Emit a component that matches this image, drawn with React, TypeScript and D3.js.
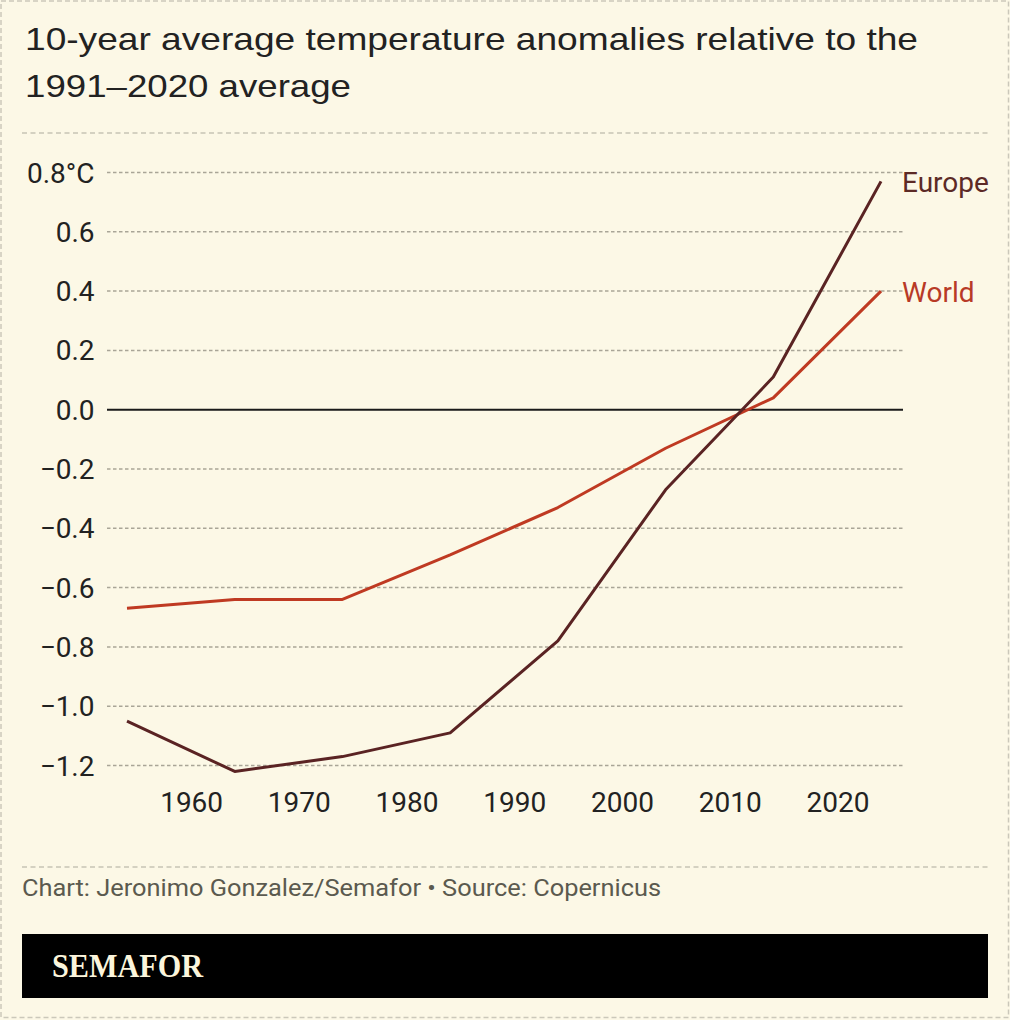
import React, { useEffect, useRef } from "react";
import * as d3 from "d3";

// 10-year averages, ending years
const years = [1954, 1964, 1974, 1984, 1994, 2004, 2014, 2024];
const europe = [-1.05, -1.22, -1.17, -1.09, -0.78, -0.27, 0.11, 0.77];
const world = [-0.67, -0.64, -0.64, -0.49, -0.33, -0.13, 0.04, 0.4];
const yTicks = [0.8, 0.6, 0.4, 0.2, 0, -0.2, -0.4, -0.6, -0.8, -1.0, -1.2];
const xTicks = [1960, 1970, 1980, 1990, 2000, 2010, 2020];
const seriesNames = ["Europe", "World"];

const W = 1010;
const H = 1020;
const BG = "#fcf8e6";
const SANS = "Roboto, 'Noto Sans', sans-serif";

const App = () => {
  const svgRef = useRef<SVGSVGElement>(null);

  useEffect(() => {
    const svg = d3.select(svgRef.current);
    svg.selectAll("*").remove();

    svg.attr("width", W).attr("height", H);

    svg.append("rect").attr("width", W).attr("height", H).attr("fill", BG);

    // outer dashed frame
    svg
      .append("rect")
      .attr("x", 1)
      .attr("y", 1)
      .attr("width", W - 2.5)
      .attr("height", H - 3.5)
      .attr("fill", "none")
      .attr("stroke", "#cbc8ba")
      .attr("stroke-width", 1.5)
      .attr("stroke-dasharray", "5,3");

    // title (reference face is wider than Arial, so stretch to its width)
    const titleLines = [
      { text: "10-year average temperature anomalies relative to the", y: 50, w: 893 },
      { text: "1991–2020 average", y: 97, w: 326 },
    ];
    svg
      .append("g")
      .selectAll("text")
      .data(titleLines)
      .join("text")
      .attr("x", 25)
      .attr("y", (d) => d.y)
      .attr("font-family", "'Liberation Sans', Arial, sans-serif")
      .attr("font-size", 31.5)
      .attr("fill", "#222")
      .attr("textLength", (d) => d.w)
      .attr("lengthAdjust", "spacingAndGlyphs")
      .text((d) => d.text);

    // separators
    [133, 867].forEach((yy) =>
      svg
        .append("line")
        .attr("x1", 22)
        .attr("x2", 988)
        .attr("y1", yy)
        .attr("y2", yy)
        .attr("stroke", "#c6c3b5")
        .attr("stroke-width", 1.5)
        .attr("stroke-dasharray", "5,3.5")
    );

    const x = d3.scaleLinear().domain([1954, 2024]).range([127, 881]);
    const y = d3.scaleLinear().domain([-1.2, 0.8]).range([765.5, 172.5]);

    const gridX1 = 107;
    const gridX2 = 903;

    // gridlines
    svg
      .append("g")
      .selectAll("line")
      .data(yTicks.filter((t) => t !== 0))
      .join("line")
      .attr("x1", gridX1)
      .attr("x2", gridX2)
      .attr("y1", (d) => y(d))
      .attr("y2", (d) => y(d))
      .attr("stroke", "#a9a597")
      .attr("stroke-width", 1.5)
      .attr("stroke-dasharray", "3.5,2.5");

    // zero line
    svg
      .append("line")
      .attr("x1", gridX1)
      .attr("x2", gridX2)
      .attr("y1", y(0))
      .attr("y2", y(0))
      .attr("stroke", "#1a1a1a")
      .attr("stroke-width", 2);

    // y labels
    svg
      .append("g")
      .selectAll("text")
      .data(yTicks)
      .join("text")
      .attr("x", 94.5)
      .attr("y", (d) => y(d) + 10)
      .attr("text-anchor", "end")
      .attr("font-family", SANS)
      .attr("font-size", 28)
      .attr("fill", "#222")
      .text((d) => {
        const s = d3.format(".1f")(Math.abs(d));
        if (d === 0.8) return "0.8°C";
        return d < 0 ? "−" + s : s;
      });

    // x labels
    svg
      .append("g")
      .selectAll("text")
      .data(xTicks)
      .join("text")
      .attr("x", (d) => x(d))
      .attr("y", 811.5)
      .attr("text-anchor", "middle")
      .attr("font-family", SANS)
      .attr("font-size", 28)
      .attr("fill", "#222")
      .text((d) => String(d));

    const line = d3
      .line<number>()
      .x((_, i) => x(years[i]))
      .y((d) => y(d));

    const series = [
      { name: seriesNames[1], values: world, color: "#bf3a22", label: "#b83a26" },
      { name: seriesNames[0], values: europe, color: "#5a2323", label: "#5c2a26" },
    ];

    series.forEach((s) => {
      svg
        .append("path")
        .attr("d", line(s.values))
        .attr("fill", "none")
        .attr("stroke", s.color)
        .attr("stroke-width", 3)
        .attr("stroke-linejoin", "round");

      const last = s.values.length - 1;
      svg
        .append("text")
        .attr("x", x(years[last]) + 21)
        .attr("y", y(s.values[last]) + 11)
        .attr("font-family", SANS)
        .attr("font-size", 28)
        .attr("fill", s.label)
        .text(s.name);
    });

    // footer
    svg
      .append("text")
      .attr("x", 22)
      .attr("y", 896)
      .attr("font-family", SANS)
      .attr("font-size", 23)
      .attr("fill", "#5b5a4f")
      .attr("textLength", 639)
      .attr("lengthAdjust", "spacingAndGlyphs")
      .text("Chart: Jeronimo Gonzalez/Semafor • Source: Copernicus");

    svg
      .append("rect")
      .attr("x", 22)
      .attr("y", 934)
      .attr("width", 966)
      .attr("height", 64)
      .attr("fill", "#000");

    svg
      .append("text")
      .attr("x", 52)
      .attr("y", 977)
      .attr("font-family", "'Liberation Serif', 'DejaVu Serif', serif")
      .attr("font-weight", "bold")
      .attr("font-size", 34)
      .attr("textLength", 151)
      .attr("lengthAdjust", "spacingAndGlyphs")
      .attr("fill", "#fbf5dc")
      .text("SEMAFOR");
  }, []);

  return (
    <svg
      ref={svgRef}
      style={{ position: "absolute", left: 0, top: 0, display: "block" }}
    ></svg>
  );
};

export default App;
